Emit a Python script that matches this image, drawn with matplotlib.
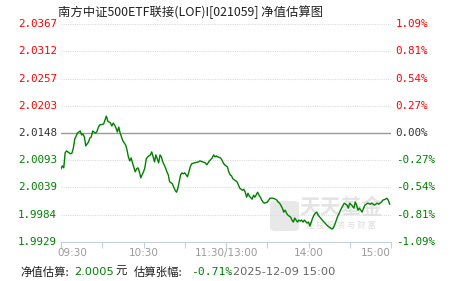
import matplotlib
matplotlib.use("Agg")
import matplotlib.pyplot as plt
from matplotlib.patches import FancyBboxPatch

plt.rcParams['font.family'] = ['Noto Sans CJK SC', 'DejaVu Sans']

# minutes since 09:30 (trading minutes, lunch break removed)
minutes = [0, 1, 2, 3, 4, 7, 8, 9, 10, 12, 14, 15, 16, 17, 18, 20, 21, 22, 23, 25,
           26, 27, 28, 31, 32, 33, 34, 36, 37, 38, 39, 40, 41, 42, 43, 44, 45, 47, 48, 49,
           50, 51, 52, 54, 55, 56, 57, 58, 60, 61, 62, 63, 65, 66, 67, 68, 69, 71, 72, 73,
           74, 76, 77, 78, 79, 81, 82, 83, 84, 85, 87, 88, 89, 90, 92, 93, 94, 95, 97, 100,
           101, 103, 105, 106, 107, 108, 110, 111, 112, 113, 114, 116, 117, 118, 119, 121, 122, 123, 124, 125,
           127, 128, 129, 130, 132, 133, 134, 135, 136, 137, 139, 140, 141, 143, 144, 145, 146, 147, 148, 150,
           151, 152, 154, 156, 157, 158, 159, 161, 162, 163, 164, 165, 167, 168, 169, 170, 172, 173, 174, 175,
           176, 177, 179, 180, 181, 183, 184, 185, 186, 187, 190, 192, 194, 197, 198, 199, 201, 204, 206, 208,
           209, 210, 212, 213, 214, 215, 216, 217, 219, 220, 221, 223, 225, 226, 227, 228, 230, 231, 232, 233,
           234, 236, 237, 238, 239]
nav = [2.0076, 2.0082, 2.0078, 2.0108, 2.0112, 2.0106, 2.0108, 2.0118, 2.0136, 2.0148,
       2.0152, 2.0144, 2.0146, 2.0140, 2.0122, 2.0130, 2.0138, 2.0140, 2.0152, 2.0148,
       2.0150, 2.0158, 2.0164, 2.0166, 2.0174, 2.0182, 2.0172, 2.0168, 2.0162, 2.0168,
       2.0164, 2.0158, 2.0150, 2.0160, 2.0148, 2.0140, 2.0132, 2.0124, 2.0114, 2.0100,
       2.0092, 2.0098, 2.0088, 2.0070, 2.0076, 2.0078, 2.0070, 2.0058, 2.0070, 2.0078,
       2.0096, 2.0100, 2.0104, 2.0110, 2.0100, 2.0090, 2.0104, 2.0088, 2.0104, 2.0100,
       2.0090, 2.0078, 2.0070, 2.0064, 2.0050, 2.0046, 2.0039, 2.0033, 2.0029, 2.0037,
       2.0064, 2.0068, 2.0066, 2.0068, 2.0060, 2.0070, 2.0080, 2.0086, 2.0088, 2.0090,
       2.0092, 2.0090, 2.0088, 2.0084, 2.0088, 2.0092, 2.0098, 2.0104, 2.0100, 2.0102,
       2.0100, 2.0098, 2.0094, 2.0088, 2.0084, 2.0080, 2.0070, 2.0064, 2.0062, 2.0056,
       2.0052, 2.0050, 2.0044, 2.0037, 2.0033, 2.0035, 2.0029, 2.0019, 2.0027, 2.0021,
       2.0015, 2.0023, 2.0019, 2.0029, 2.0023, 2.0019, 2.0013, 2.0009, 2.0007, 2.0009,
       2.0013, 2.0017, 2.0017, 2.0015, 2.0013, 2.0009, 2.0007, 1.9997, 1.9989, 1.9993,
       1.9987, 1.9983, 1.9979, 1.9973, 1.9969, 1.9977, 1.9969, 1.9973, 1.9971, 1.9973,
       1.9969, 1.9973, 1.9967, 1.9969, 1.9961, 1.9977, 1.9983, 1.9987, 1.9989, 1.9983,
       1.9973, 1.9967, 1.9961, 1.9955, 1.9957, 1.9963, 1.9979, 1.9997, 2.0007, 2.0003,
       1.9997, 2.0007, 2.0001, 1.9997, 2.0009, 2.0003, 1.9993, 1.9997, 1.9989, 1.9997,
       2.0003, 2.0007, 2.0005, 2.0007, 2.0005, 2.0003, 2.0007, 2.0005, 2.0007, 2.0009,
       2.0013, 2.0015, 2.0017, 2.0013, 2.0005]

base_nav = 2.0148
y_ticks = [2.0367, 2.0312, 2.0257, 2.0203, 2.0148, 2.0093, 2.0039, 1.9984, 1.9929]
pct_labels = ['1.09%', '0.81%', '0.54%', '0.27%', '0.00%', '-0.27%', '-0.54%', '-0.81%', '-1.09%']
x_ticks = [0, 30, 60, 90, 120, 150, 180, 210, 240]
x_labels = {0: '09:30', 60: '10:30', 120: '11:30/13:00', 180: '14:00', 240: '15:00'}

title = '南方中证500ETF联接(LOF)I[021059] 净值估算图'

red = '#ff0000'
green = '#008000'
grey = '#999999'

fig = plt.figure(figsize=(4.51, 2.81), dpi=100)
ax = fig.add_axes([61 / 451, 39 / 281, 330 / 451, 218 / 281])
ax.set_xlim(0, 240)
ax.set_ylim(y_ticks[-1], y_ticks[0])
for s in ['top', 'left', 'right']:
    ax.spines[s].set_visible(False)
ax.spines['bottom'].set_color('#c2cfdc')
ax.set_yticks([])
ax.set_xticks(x_ticks)
ax.tick_params(axis='x', length=4, color='#c2cfdc', labelbottom=False)

# grid lines
for v in y_ticks[:-1]:
    if v == base_nav:
        ax.axhline(v, color='#999999', lw=1.0, zorder=1)
    else:
        ax.axhline(v, color='#dddddd', lw=0.8, ls=(0, (1, 1)), zorder=1)

# axis labels on both sides
for v, p in zip(y_ticks, pct_labels):
    c = red if v > base_nav else (green if v < base_nav else '#333333')
    ax.text(-0.012, v, f'{v:.4f}', transform=ax.get_yaxis_transform(), ha='right', va='center',
            fontsize=7.8, color=c, family='DejaVu Sans Mono')
    ax.text(1.014, v, p, transform=ax.get_yaxis_transform(), ha='left', va='center',
            fontsize=7.8, color=c, family='DejaVu Sans Mono')

for m, lab in x_labels.items():
    ha = 'center'
    xoff = 0
    if m == 0:
        xoff = 8
    if m == 240:
        ha = 'right'
    ax.annotate(lab, (m, 0), xycoords=('data', 'axes fraction'), xytext=(xoff, -8),
                textcoords='offset points', ha=ha, va='center', fontsize=7.5,
                color='#9a9a9a', family='DejaVu Sans')

# watermark (under the line)
wm = FancyBboxPatch((270 / 451, (281 - 231) / 281), 29 / 451, 30 / 281,
                    boxstyle='round,pad=0,rounding_size=0.012', transform=fig.transFigure,
                    facecolor='#e8e8e8', edgecolor='none', zorder=0.5, clip_on=False)
ax.add_patch(wm)
ax.text(341 / 451, 1 - 208 / 281, '天天基金', transform=fig.transFigure, ha='center', va='center',
        fontsize=15, color='#e4e4e4', weight='bold', zorder=0.5)
ax.text(341 / 451, 1 - 225 / 281, '连 接 投 资 与 财 富', transform=fig.transFigure, ha='center',
        va='center', fontsize=6, color='#dedede', zorder=0.5)

ax.plot(minutes, nav, color=green, lw=1.0, zorder=3)

fig.text(58 / 451, 1 - 12 / 281, title, ha='left', va='center', fontsize=8.9, color='#222222')

# footer
def put(x, s, c, fam=None):
    t = fig.text(x / 451, 1 - 272 / 281, s, ha='left', va='center', fontsize=8.2, color=c,
                 family=fam or ['Noto Sans CJK SC', 'DejaVu Sans'])
    return t

put(20, '净值估算:', '#222222')
put(74, '2.0005', green, 'DejaVu Sans')
put(115, '元', '#222222')
put(134, '估算张幅:', '#222222')
put(191, '-0.71%', green, 'DejaVu Sans Mono')
put(233, '2025-12-09 15:00', '#666666', 'DejaVu Sans')

fig.savefig('out.png', dpi=100)
